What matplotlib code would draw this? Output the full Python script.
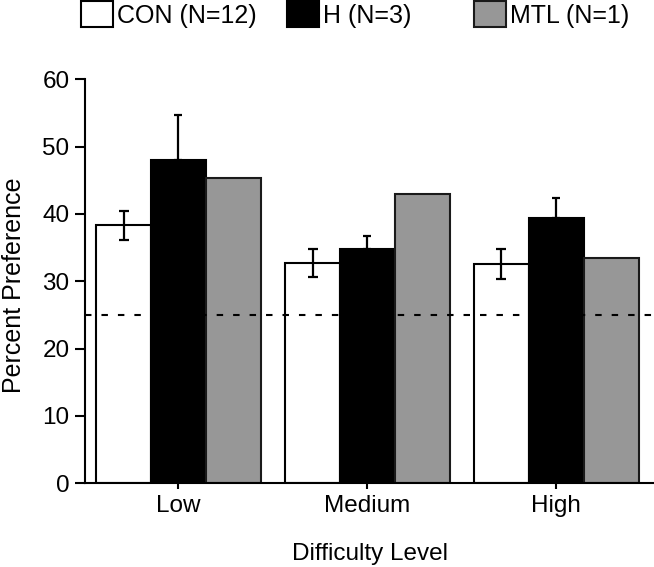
import matplotlib
matplotlib.use('Agg')
import numpy as np
from matplotlib import pyplot as plt

plt.rcParams['font.family'] = ['Liberation Sans', 'DejaVu Sans']

#######################################################################################################################
# Data
levels = ['Low', 'Medium', 'High']
con_mean = [38.3, 32.7, 32.6]
con_err = [2.1, 2.1, 2.2]
h_mean = [48.0, 34.8, 39.4]
h_err = [6.7, 2.0, 2.9]
mtl_mean = [45.4, 43.0, 33.4]
chance = 25
#######################################################################################################################

W, H = 654, 567
fig = plt.figure(figsize=(W / 100, H / 100), dpi=100)
ax = fig.add_axes([85 / W, (H - 483.3) / H, (W - 85) / W, (483.3 - 79.3) / H])

x = np.arange(len(levels))
w = 0.29
lw = 1.5
b_con = ax.bar(x - w, con_mean, w, color='white', edgecolor='black', linewidth=lw, label='CON (N=12)', zorder=2)
b_h = ax.bar(x, h_mean, w, color='black', edgecolor='black', linewidth=lw, label='H (N=3)', zorder=2)
b_mtl = ax.bar(x + w, mtl_mean, w, color='#979797', edgecolor='#1a1a1a', linewidth=lw, label='MTL (N=1)', zorder=2)

ax.errorbar(x - w, con_mean, yerr=con_err, fmt='none', ecolor='black', elinewidth=1.6, capsize=3.6,
            capthick=1.6, zorder=3)
ax.errorbar(x, h_mean, yerr=[np.zeros(len(h_err)), h_err], fmt='none', ecolor='black', elinewidth=1.6,
            capsize=3.0, capthick=1.6, zorder=3)

# chance level
ax.axhline(chance, color='black', linewidth=1.5, linestyle=(0, (3.1, 4.8)), zorder=4)

ax.set_xlim(-0.494, 2.517)
ax.set_ylim(0, 60)
ax.set_yticks(np.arange(0, 61, 10))
ax.set_xticks(x)
ax.set_xticklabels(levels)

for s in ['top', 'right']:
    ax.spines[s].set_visible(False)
for s in ['left', 'bottom']:
    ax.spines[s].set_linewidth(1.5)

ax.tick_params(axis='y', length=7.5, width=1.5, pad=3.6, labelsize=17.5)
ax.tick_params(axis='x', length=4.5, width=1.5, pad=4, labelsize=17.5)

ax.set_xlabel('Difficulty Level', fontsize=17.5, labelpad=19)
ax.set_ylabel('Percent Preference', fontsize=18)
ax.yaxis.set_label_coords(-0.104, 0.49)

# legend: one entry per box, placed along the top edge
fs = 18
for bars, lx in zip([b_con, b_h, b_mtl], [81, 287, 474]):
    leg = fig.legend(handles=[bars], loc='upper left', bbox_to_anchor=(lx / W, 1 - 1 / H), frameon=False,
                     fontsize=fs, borderpad=0, borderaxespad=0, handlelength=1.28, handleheight=1.24,
                     handletextpad=0.15)

fig.savefig('out.png', dpi=100)
